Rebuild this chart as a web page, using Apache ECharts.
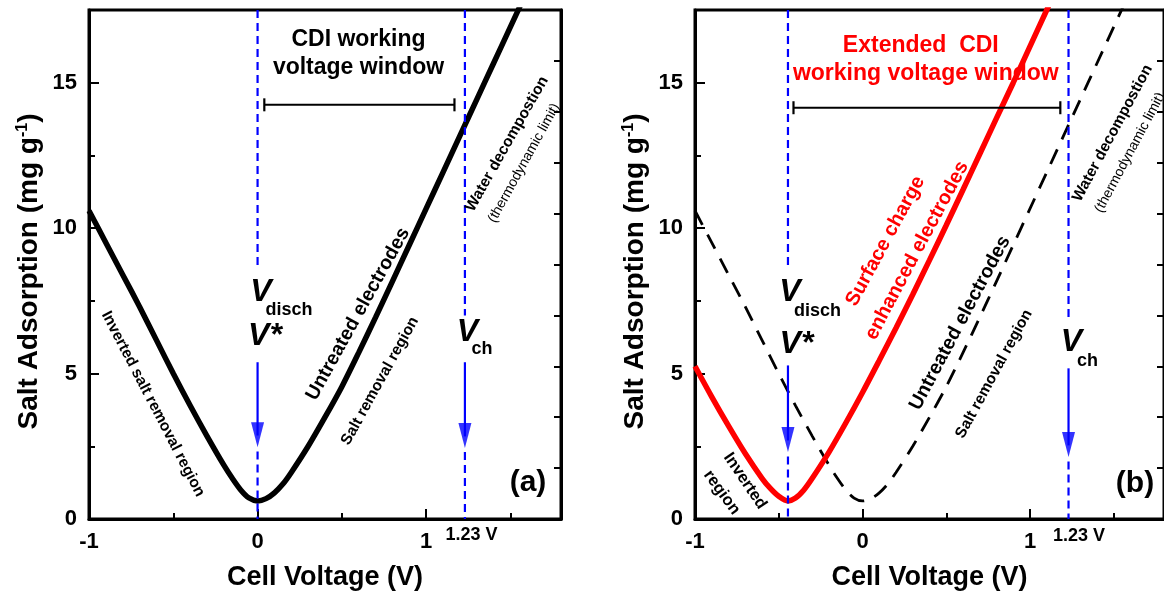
<!DOCTYPE html>
<html><head><meta charset="utf-8">
<script src="https://cdn.jsdelivr.net/npm/echarts/dist/echarts.min.js"></script>
<style>html,body{margin:0;padding:0;background:#fff}#c{width:1164px;height:597px}</style>
</head><body><div id="c"></div>
<script>
const FONT = '"Liberation Sans", Arial, Helvetica, sans-serif';

// ---- data ----
// Untreated electrodes (solid in panel a, dashed in panel b)
const untreatedV = [-1.0,-0.9,-0.8,-0.7,-0.6,-0.5,-0.4,-0.3,-0.2,-0.15,-0.1,-0.05,0,0.05,0.1,0.15,0.2,0.3,0.4,0.5,0.6,0.7,0.8,0.9,1.0,1.1,1.2,1.3,1.4,1.5,1.6];
const untreatedQ = [10.6,9.5,8.4,7.3,6.15,5.0,3.9,2.85,1.85,1.4,1.0,0.72,0.62,0.7,0.9,1.2,1.6,2.5,3.5,4.55,5.72,6.93,8.17,9.42,10.67,11.92,13.17,14.42,15.67,16.92,18.17];
// Surface charge enhanced electrodes (red, panel b)
const enhancedV = [-1.0,-0.9,-0.8,-0.7,-0.6,-0.55,-0.5,-0.445,-0.4,-0.35,-0.3,-0.2,-0.1,0,0.1,0.2,0.3,0.4,0.5,0.6,0.7,0.8,0.9,1.0,1.1,1.2];
const enhancedQ = [5.25,4.2,3.2,2.25,1.4,1.05,0.78,0.62,0.72,1.0,1.4,2.3,3.3,4.35,5.45,6.57,7.72,8.9,10.1,11.32,12.55,13.78,15.0,16.25,17.5,18.75];

// axes
const xMin = -1, xMax = 1.8, yMin = 0, yMax = 17.5;
const xTickValues = [-1, 0, 1];
const xTickLabels = ['-1', '0', '1'];
const yTickValues = [0, 5, 10, 15];
const yTickLabels = ['0', '5', '10', '15'];

// blue guides: [panel, x, upper dashed end, arrow top, arrow tip, lower dashed start]
const guides = [
  [0, 0,      8.6, 5.39, 2.47, 2.32],
  [0, 1.23,   7.0, 5.39, 2.44, 2.30],
  [1, -0.445, 8.6, 5.28, 2.30, 2.15],
  [1, 1.23,   6.9, 5.18, 2.13, 1.98]
];
// working voltage window brackets: [panel, xStart, xEnd, y]
const windows = [
  [0, 0.04, 1.168, 14.24],
  [1, -0.412, 1.181, 14.14]
];

// ---- chart ----
const grids = [
  {left: 89, top: 10, width: 472, height: 509},
  {left: 695, top: 10, width: 471, height: 509}
];
const xAxes = [], yAxes = [];
const labelStyle = {color: '#000', fontSize: 22, fontWeight: 'bold', fontFamily: FONT};
grids.forEach((g, gi) => {
  xAxes.push({type: 'value', gridIndex: gi, min: xMin, max: xMax, interval: 1, position: 'bottom',
    axisLine: {onZero: false, lineStyle: {color: '#000', width: 3}},
    axisTick: {inside: true, length: 10, lineStyle: {color: '#000', width: 2}},
    axisLabel: Object.assign({margin: 12, showMaxLabel: false, formatter: v => {
      const i = xTickValues.findIndex(t => Math.abs(t - v) < 1e-6); return i >= 0 ? xTickLabels[i] : ''; }}, labelStyle),
    splitLine: {show: false},
    name: 'Cell Voltage (V)', nameLocation: 'middle', nameGap: 45,
    nameTextStyle: {color: '#000', fontSize: 27, fontWeight: 'bold', fontFamily: FONT}});
  xAxes.push({type: 'value', gridIndex: gi, min: xMin, max: xMax, interval: 0.5, position: 'bottom',
    axisLine: {show: false, onZero: false}, axisLabel: {show: false}, splitLine: {show: false},
    axisTick: {inside: true, length: 6, lineStyle: {color: '#000', width: 2}}});
  yAxes.push({type: 'value', gridIndex: gi, min: yMin, max: yMax, interval: 5, position: 'left',
    axisLine: {onZero: false, lineStyle: {color: '#000', width: 3}},
    axisTick: {inside: true, length: 10, lineStyle: {color: '#000', width: 2}},
    axisLabel: Object.assign({margin: 12, showMaxLabel: false, formatter: v => {
      const i = yTickValues.findIndex(t => Math.abs(t - v) < 1e-6); return i >= 0 ? yTickLabels[i] : ''; }}, labelStyle),
    splitLine: {show: false},
    name: 'Salt Adsorption (mg g{sup|-1})', nameLocation: 'middle', nameGap: 46,
    nameTextStyle: {color: '#000', fontSize: 28, fontWeight: 'bold', fontFamily: FONT, padding: [0, 14, 0, 0],
      rich: {sup: {fontSize: 16, fontWeight: 'bold', fontFamily: FONT, color: '#000', verticalAlign: 'top', lineHeight: 16}}}});
  yAxes.push({type: 'value', gridIndex: gi, min: yMin, max: yMax, interval: 2.5, position: 'left',
    axisLine: {show: false, onZero: false}, axisLabel: {show: false}, splitLine: {show: false},
    axisTick: {inside: true, length: 6, lineStyle: {color: '#000', width: 2}}});
  yAxes.push({type: 'value', gridIndex: gi, min: 0, max: 10, interval: 1, position: 'right',
    axisLine: {onZero: false, lineStyle: {color: '#000', width: 3}}, axisLabel: {show: false}, splitLine: {show: false},
    axisTick: {inside: true, length: 7, lineStyle: {color: '#000', width: 2}}});
});
const XI = [0, 2], YI = [0, 3];
const pairs = (xs, ys) => xs.map((x, i) => [x, ys[i]]);
const series = [];
const base = {type: 'line', symbol: 'none', silent: true, animation: false};
series.push(Object.assign({}, base, {xAxisIndex: 0, yAxisIndex: 0, data: pairs(untreatedV, untreatedQ), smooth: 0.3,
  lineStyle: {color: '#000', width: 5.5}, z: 3}));
series.push(Object.assign({}, base, {xAxisIndex: 2, yAxisIndex: 3, data: pairs(untreatedV, untreatedQ), smooth: 0.3,
  lineStyle: {color: '#000', width: 2.8, type: [16, 11]}, z: 3}));
series.push(Object.assign({}, base, {xAxisIndex: 2, yAxisIndex: 3, data: pairs(enhancedV, enhancedQ), smooth: 0.3,
  lineStyle: {color: '#ff0000', width: 5.5}, z: 4}));

guides.forEach(([p, x, upEnd, aTop, aTip, lowStart]) => {
  const ax = {xAxisIndex: XI[p], yAxisIndex: YI[p]};
  const dashed = {color: '#0000ff', width: 2.2, type: [8, 5]};
  series.push(Object.assign({}, base, ax, {data: [[x, yMax], [x, upEnd]], lineStyle: dashed, z: 6}));
  series.push(Object.assign({}, base, ax, {data: [[x, lowStart], [x, yMin]], lineStyle: dashed, z: 6}));
  series.push(Object.assign({}, base, ax, {data: [[x, aTop], [x, aTip + 0.4]], lineStyle: {color: '#0000ff', width: 2.2}, z: 6}));
  series.push(Object.assign({}, ax, {type: 'scatter', silent: true, animation: false, data: [[x, aTip]],
    symbol: 'path://M0 0 L12 0 L6 24 Z', symbolSize: [13, 25], symbolOffset: [0, '-50%'],
    itemStyle: {color: '#0000ff'}, z: 6}));
});
windows.forEach(([p, x0, x1, y]) => {
  series.push({type: 'line', silent: true, animation: false, xAxisIndex: XI[p], yAxisIndex: YI[p],
    data: [[x0, y], [x1, y]], symbol: 'rect', symbolSize: [2.2, 13], showSymbol: true,
    itemStyle: {color: '#000'}, lineStyle: {color: '#000', width: 2}, z: 5});
});

// ---- annotation texts ----
const notes = [
  [358.5, 40, 'CDI working', 'bold 23px', '#000', 0],
  [358.5, 68, 'voltage window', 'bold 23px', '#000', 0],
  [261, 292, 'V', 'italic bold 32px', '#000', 0],
  [289, 310, 'disch', 'bold 18px', '#000', 0],
  [265, 336, 'V*', 'italic bold 32px', '#000', 0],
  [467.5, 332.5, 'V', 'italic bold 32px', '#000', 0],
  [482, 349, 'ch', 'bold 18px', '#000', 0],
  [153, 404, 'Inverted salt removal region', 'bold 15.5px', '#000', -62.5],
  [358, 314, 'Untreated electrodes', 'bold 19.5px', '#000', 61],
  [380, 381, 'Salt removal region', 'bold 15.5px', '#000', 61],
  [507, 144, 'Water decompostion', 'bold 15.5px', '#000', 60.5],
  [524, 163, '(thermodynamic limit)', '14px', '#000', 61],
  [528, 483, '(a)', 'bold 30px', '#000', 0],
  [471.5, 535.5, '1.23 V', 'bold 18px', '#000', 0],
  [920.8, 45.8, 'Extended  CDI', 'bold 23px', '#ff0000', 0],
  [925.8, 74, 'working voltage window', 'bold 23px', '#ff0000', 0],
  [790, 292, 'V', 'italic bold 32px', '#000', 0],
  [817.5, 311, 'disch', 'bold 18px', '#000', 0],
  [796.5, 344.5, 'V*', 'italic bold 32px', '#000', 0],
  [1071.5, 342.5, 'V', 'italic bold 32px', '#000', 0],
  [1087.5, 361, 'ch', 'bold 18px', '#000', 0],
  [885.5, 241, 'Surface charge', 'bold 20px', '#ff0000', 61.5],
  [917, 250.5, 'enhanced electrodes', 'bold 20px', '#ff0000', 62],
  [960, 323, 'Untreated electrodes', 'bold 19.5px', '#000', 62],
  [994, 374, 'Salt removal region', 'bold 15.5px', '#000', 61.4],
  [1112.5, 133.3, 'Water decompostion', 'bold 15.5px', '#000', 61.8],
  [1130, 152.6, '(thermodynamic limit)', '14px', '#000', 61.8],
  [745, 481, 'Inverted', 'bold 16.5px', '#000', -56],
  [721.7, 492.5, 'region', 'bold 16.5px', '#000', -54],
  [1135, 484, '(b)', 'bold 30px', '#000', 0],
  [1079, 536.5, '1.23 V', 'bold 18px', '#000', 0]
];
const graphic = notes.map(([x, y, t, f, c, r]) => ({
  type: 'text', x: x, y: y, rotation: r * Math.PI / 180, silent: true, z: 100,
  style: {text: t, font: f + ' ' + FONT, fill: c, align: 'center', verticalAlign: 'middle',
    textAlign: 'center', textVerticalAlign: 'middle'}
}));

const chart = echarts.init(document.getElementById('c'), null, {renderer: 'canvas'});
chart.setOption({
  backgroundColor: '#fff',
  animation: false,
  grid: grids.map(g => Object.assign({show: true, borderColor: '#000', borderWidth: 3, backgroundColor: 'transparent'}, g)),
  xAxis: xAxes,
  yAxis: yAxes,
  series: series,
  graphic: graphic
});
</script></body></html>
